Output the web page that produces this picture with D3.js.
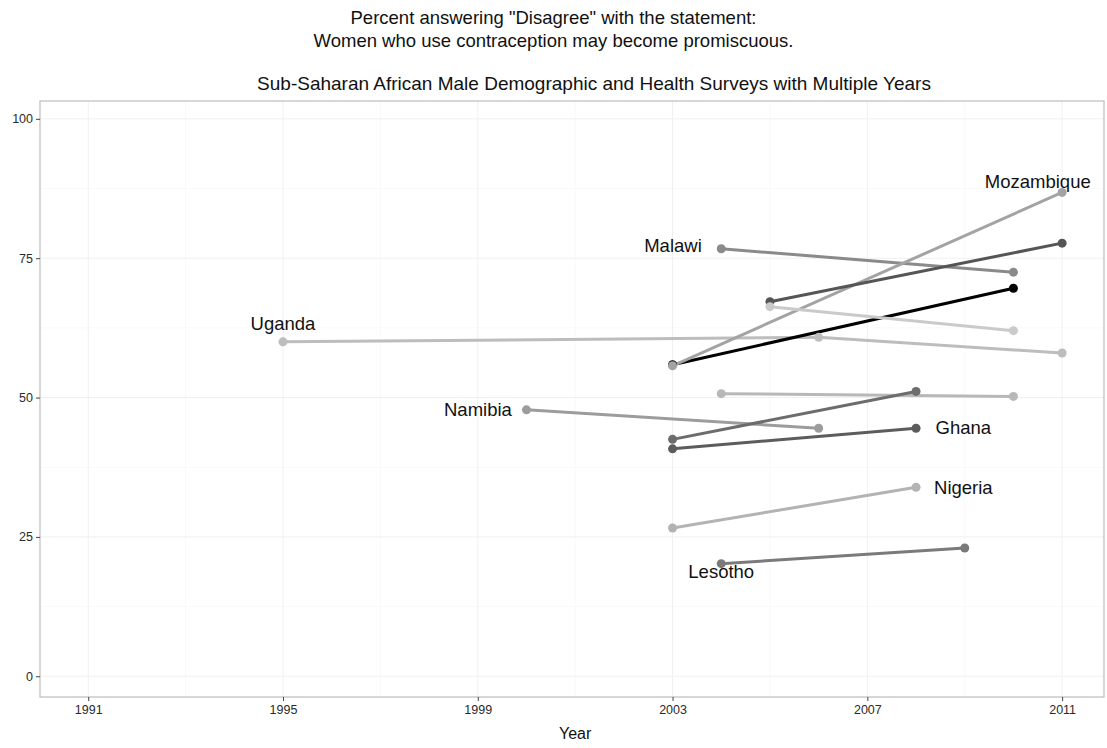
<!DOCTYPE html>
<html>
<head>
<meta charset="utf-8">
<script src="https://cdn.jsdelivr.net/npm/d3@7/dist/d3.min.js"></script>
<style>
  html, body { margin: 0; padding: 0; background: #fff; }
  svg { display: block; font-family: "Liberation Sans", Arial, sans-serif; }
</style>
</head>
<body>
<svg id="chart" width="1107" height="748"></svg>
<script>
// Survey series: each country's years and the percent answering "Disagree"
const countries = ["Uganda", "Malawi", "Burkina Faso", "Mozambique", "Ethiopia", "Rwanda",
                   "Tanzania", "Namibia", "Kenya", "Ghana", "Nigeria", "Lesotho"];
const surveyYears = [
  [1995, 2006, 2011],
  [2004, 2010],
  [2003, 2010],
  [2003, 2011],
  [2005, 2011],
  [2005, 2010],
  [2004, 2010],
  [2000, 2006],
  [2003, 2008],
  [2003, 2008],
  [2003, 2008],
  [2004, 2009]
];
const disagreePct = [
  [60.0, 60.8, 58.0],
  [76.7, 72.5],
  [55.9, 69.6],
  [55.7, 86.8],
  [67.2, 77.7],
  [66.3, 62.0],
  [50.7, 50.2],
  [47.8, 44.5],
  [42.5, 51.1],
  [40.8, 44.5],
  [26.6, 33.9],
  [20.2, 23.0]
];
// grey level per country
const seriesGrey = ["#bdbdbd", "#8a8a8a", "#000000", "#a3a3a3", "#555555", "#cacaca",
                    "#b8b8b8", "#9c9c9c", "#6c6c6c", "#5c5c5c", "#b3b3b3", "#7a7a7a"];

// country name labels, placed in data coordinates
const labelNames  = ["Uganda", "Malawi", "Mozambique", "Namibia", "Ghana", "Nigeria", "Lesotho"];
const labelYears  = [1995, 2003.6, 2010.5, 1999.7, 2008.4, 2008.37, 2004.0];
const labelValues = [63.3, 77.3, 88.7, 47.8, 44.7, 33.8, 18.75];
const labelAnchor = ["middle", "end", "middle", "end", "start", "start", "middle"];

const xTicks = [1991, 1995, 1999, 2003, 2007, 2011];
const xMinor = [1993, 1997, 2001, 2005, 2009];
const yTicks = [0, 25, 50, 75, 100];
const yMinor = [12.5, 37.5, 62.5, 87.5];

const titleLines = ['Percent answering "Disagree" with the statement:',
                    'Women who use contraception may become promiscuous.'];
const subtitle = "Sub-Saharan African Male Demographic and Health Surveys with Multiple Years";
const xTitle = "Year";

const svg = d3.select("#chart");
const panel = { left: 40, right: 1104, top: 101, bottom: 697 };

const x = d3.scaleLinear().domain([1990.01, 2011.86]).range([panel.left, panel.right]);
const y = d3.scaleLinear().domain([-3.72, 103.2]).range([panel.bottom, panel.top]);

const textFill = "#111";
const titleSize = 18.5;

// titles
svg.append("text").attr("x", 553.5).attr("y", 23.5).attr("text-anchor", "middle")
  .attr("font-size", titleSize).attr("fill", textFill).text(titleLines[0]);
svg.append("text").attr("x", 553.5).attr("y", 46.5).attr("text-anchor", "middle")
  .attr("font-size", titleSize).attr("fill", textFill).text(titleLines[1]);
svg.append("text").attr("x", 594).attr("y", 89.5).attr("text-anchor", "middle")
  .attr("font-size", 19).attr("fill", textFill).text(subtitle);

// grid
const grid = svg.append("g");
grid.selectAll("line.xm").data(xMinor).join("line")
  .attr("x1", d => x(d)).attr("x2", d => x(d)).attr("y1", panel.top).attr("y2", panel.bottom)
  .attr("stroke", "#f9f9f9").attr("stroke-width", 1);
grid.selectAll("line.ym").data(yMinor).join("line")
  .attr("y1", d => y(d)).attr("y2", d => y(d)).attr("x1", panel.left).attr("x2", panel.right)
  .attr("stroke", "#f9f9f9").attr("stroke-width", 1);
grid.selectAll("line.xg").data(xTicks).join("line")
  .attr("x1", d => x(d)).attr("x2", d => x(d)).attr("y1", panel.top).attr("y2", panel.bottom)
  .attr("stroke", "#f0f0f0").attr("stroke-width", 1);
grid.selectAll("line.yg").data(yTicks).join("line")
  .attr("y1", d => y(d)).attr("y2", d => y(d)).attr("x1", panel.left).attr("x2", panel.right)
  .attr("stroke", "#f0f0f0").attr("stroke-width", 1);

// panel border
svg.append("rect").attr("x", panel.left).attr("y", panel.top)
  .attr("width", panel.right - panel.left).attr("height", panel.bottom - panel.top)
  .attr("fill", "none").attr("stroke", "#bdbdbd").attr("stroke-width", 1.2);

// axes
const xAxis = svg.append("g").attr("transform", `translate(0,${panel.bottom})`)
  .call(d3.axisBottom(x).tickValues(xTicks).tickFormat(d3.format("d")).tickSize(4).tickPadding(4));
const yAxis = svg.append("g").attr("transform", `translate(${panel.left},0)`)
  .call(d3.axisLeft(y).tickValues(yTicks).tickSize(4).tickPadding(3));
[xAxis, yAxis].forEach(a => {
  a.select(".domain").remove();
  a.selectAll(".tick line").attr("stroke", "#444").attr("stroke-width", 1);
  a.selectAll(".tick text").attr("font-size", 12.5).attr("fill", "#2a2a2a")
    .attr("font-family", "'Liberation Sans', Arial, sans-serif");
});

svg.append("text").attr("x", x(2001)).attr("y", 739).attr("text-anchor", "middle")
  .attr("font-size", 16).attr("fill", textFill).text(xTitle);

// series: all lines first, then all points on top
const series = countries.map((c, i) => ({
  name: c, colour: seriesGrey[i],
  pts: surveyYears[i].map((yr, j) => ({ year: yr, value: disagreePct[i][j] }))
}));
const line = d3.line().x(d => x(d.year)).y(d => y(d.value));
const lineLayer = svg.append("g");
const pointLayer = svg.append("g");
series.forEach(s => {
  lineLayer.append("path").datum(s.pts).attr("d", line).attr("fill", "none")
    .attr("stroke", s.colour).attr("stroke-width", 3).attr("stroke-linecap", "butt");
  pointLayer.append("g").selectAll("circle").data(s.pts).join("circle")
    .attr("cx", d => x(d.year)).attr("cy", d => y(d.value)).attr("r", 4.5)
    .attr("fill", s.colour);
});

// country labels
svg.append("g").selectAll("text").data(labelNames).join("text")
  .attr("x", (d, i) => x(labelYears[i])).attr("y", (d, i) => y(labelValues[i]))
  .attr("dy", "0.35em").attr("text-anchor", (d, i) => labelAnchor[i])
  .attr("font-size", titleSize).attr("fill", textFill).text(d => d);
</script>
</body>
</html>
